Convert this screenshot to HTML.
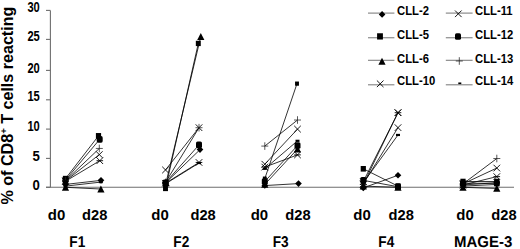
<!DOCTYPE html>
<html><head><meta charset="utf-8"><style>
html,body{margin:0;padding:0;background:#fff;}
svg{display:block;}
text{font-family:"Liberation Sans",sans-serif;font-weight:bold;fill:#000;}
.yl{font-size:13.9px;}
.xl{font-size:14px;}
.gl{font-size:15.6px;text-rendering:geometricPrecision;}
.lg{font-size:12.8px;}
.yt{font-size:16.1px;}
.sup{font-size:9.5px;}
</style></head><body>
<svg width="520" height="249" viewBox="0 0 520 249">
<path d="M50.4 10.40V187.30" stroke="#6e6e6e" stroke-width="1.1" fill="none"/>
<path d="M46 187.30H514" stroke="#6e6e6e" stroke-width="1.1" fill="none"/>
<path d="M46 187.30H50.4" stroke="#6e6e6e" stroke-width="1.1" fill="none"/>
<text transform="translate(39.8,189.55) scale(0.95,1)" text-anchor="end" class="yl">0</text>
<path d="M46 158.40H50.4" stroke="#6e6e6e" stroke-width="1.1" fill="none"/>
<text transform="translate(39.8,161.35) scale(0.95,1)" text-anchor="end" class="yl">5</text>
<path d="M46 129.10H50.4" stroke="#6e6e6e" stroke-width="1.1" fill="none"/>
<text transform="translate(39.8,130.85) scale(0.8,1)" text-anchor="end" class="yl">10</text>
<path d="M46 99.80H50.4" stroke="#6e6e6e" stroke-width="1.1" fill="none"/>
<text transform="translate(39.8,101.35) scale(0.8,1)" text-anchor="end" class="yl">15</text>
<path d="M46 70.40H50.4" stroke="#6e6e6e" stroke-width="1.1" fill="none"/>
<text transform="translate(39.8,72.55) scale(0.8,1)" text-anchor="end" class="yl">20</text>
<path d="M46 39.40H50.4" stroke="#6e6e6e" stroke-width="1.1" fill="none"/>
<text transform="translate(39.8,41.05) scale(0.8,1)" text-anchor="end" class="yl">25</text>
<path d="M46 10.40H50.4" stroke="#6e6e6e" stroke-width="1.1" fill="none"/>
<text transform="translate(39.8,12.00) scale(0.8,1)" text-anchor="end" class="yl">30</text>
<path d="M65.50 178.63L98.50 135.84" stroke="#000" stroke-width="0.8" fill="none"/>
<path d="M65.50 180.08L99.70 139.35" stroke="#000" stroke-width="0.8" fill="none"/>
<path d="M65.50 180.65L99.30 148.44" stroke="#000" stroke-width="0.8" fill="none"/>
<path d="M65.50 180.94L99.30 154.59" stroke="#000" stroke-width="0.8" fill="none"/>
<path d="M65.50 181.23L99.80 160.71" stroke="#000" stroke-width="0.8" fill="none"/>
<path d="M65.50 184.41L101.00 180.36" stroke="#000" stroke-width="0.8" fill="none"/>
<path d="M65.50 186.14L100.80 182.10" stroke="#000" stroke-width="0.8" fill="none"/>
<path d="M65.50 187.30L100.90 189.03" stroke="#000" stroke-width="0.8" fill="none"/>
<path d="M166.00 182.68L200.80 36.50" stroke="#000" stroke-width="0.8" fill="none"/>
<path d="M165.50 188.46L198.30 43.43" stroke="#000" stroke-width="0.8" fill="none"/>
<path d="M165.50 169.96L199.00 127.69" stroke="#000" stroke-width="0.8" fill="none"/>
<path d="M165.50 182.39L199.00 127.69" stroke="#000" stroke-width="0.8" fill="none"/>
<path d="M165.50 182.68L199.00 144.92" stroke="#000" stroke-width="0.8" fill="none"/>
<path d="M165.50 182.97L200.00 149.61" stroke="#000" stroke-width="0.8" fill="none"/>
<path d="M165.50 183.25L199.00 162.45" stroke="#000" stroke-width="0.8" fill="none"/>
<path d="M165.50 183.83L199.00 163.02" stroke="#000" stroke-width="0.8" fill="none"/>
<path d="M264.80 178.63L297.00 83.63" stroke="#000" stroke-width="0.8" fill="none"/>
<path d="M264.80 146.09L297.50 120.02" stroke="#000" stroke-width="0.8" fill="none"/>
<path d="M264.80 164.18L297.50 129.10" stroke="#000" stroke-width="0.8" fill="none"/>
<path d="M264.80 167.07L297.50 154.88" stroke="#000" stroke-width="0.8" fill="none"/>
<path d="M264.80 181.52L297.50 145.51" stroke="#000" stroke-width="0.8" fill="none"/>
<path d="M264.80 184.41L297.50 149.02" stroke="#000" stroke-width="0.8" fill="none"/>
<path d="M264.80 185.57L298.50 183.60" stroke="#000" stroke-width="0.8" fill="none"/>
<path d="M264.80 168.80L297.50 140.82" stroke="#000" stroke-width="0.8" fill="none"/>
<path d="M363.30 181.52L398.00 112.69" stroke="#000" stroke-width="0.8" fill="none"/>
<path d="M363.30 184.41L398.00 112.69" stroke="#000" stroke-width="0.8" fill="none"/>
<path d="M363.30 183.83L398.00 127.63" stroke="#000" stroke-width="0.8" fill="none"/>
<path d="M363.30 182.68L398.00 134.96" stroke="#000" stroke-width="0.8" fill="none"/>
<path d="M363.30 168.80L398.00 186.14" stroke="#000" stroke-width="0.8" fill="none"/>
<path d="M363.30 187.88L398.00 175.28" stroke="#000" stroke-width="0.8" fill="none"/>
<path d="M363.30 180.36L398.00 186.72" stroke="#000" stroke-width="0.8" fill="none"/>
<path d="M363.30 186.14L398.00 187.30" stroke="#000" stroke-width="0.8" fill="none"/>
<path d="M463.00 183.83L496.80 158.52" stroke="#000" stroke-width="0.8" fill="none"/>
<path d="M463.00 183.83L496.80 168.05" stroke="#000" stroke-width="0.8" fill="none"/>
<path d="M463.00 184.99L496.80 176.61" stroke="#000" stroke-width="0.8" fill="none"/>
<path d="M463.00 181.52L496.80 181.52" stroke="#000" stroke-width="0.8" fill="none"/>
<path d="M463.00 183.25L496.80 183.25" stroke="#000" stroke-width="0.8" fill="none"/>
<path d="M463.00 184.99L496.80 182.68" stroke="#000" stroke-width="0.8" fill="none"/>
<path d="M463.00 187.30L496.80 188.46" stroke="#000" stroke-width="0.8" fill="none"/>
<path d="M463.00 186.14L496.80 184.41" stroke="#000" stroke-width="0.8" fill="none"/>
<rect x="62.90" y="175.83" width="5.20" height="5.60" fill="#000"/>
<rect x="95.90" y="133.04" width="5.20" height="5.60" fill="#000"/>
<rect x="62.50" y="176.78" width="6.00" height="6.60" rx="1.60" fill="#000"/>
<rect x="96.70" y="136.05" width="6.00" height="6.60" rx="1.60" fill="#000"/>
<path d="M62.00 180.65L69.00 180.65M65.50 176.85L65.50 184.45" stroke="#222" stroke-width="0.75" fill="none"/>
<path d="M95.80 148.44L102.80 148.44M99.30 144.64L99.30 152.24" stroke="#222" stroke-width="0.75" fill="none"/>
<path d="M62.20 177.64L68.80 184.24M68.80 177.64L62.20 184.24" stroke="#000" stroke-width="0.9" fill="none"/>
<path d="M96.00 151.29L102.60 157.89M102.60 151.29L96.00 157.89" stroke="#000" stroke-width="0.9" fill="none"/>
<path d="M62.20 177.93L68.80 184.53M68.80 177.93L62.20 184.53M62.20 181.23L68.80 181.23" stroke="#000" stroke-width="0.9" fill="none"/>
<path d="M96.50 157.41L103.10 164.01M103.10 157.41L96.50 164.01M96.50 160.71L103.10 160.71" stroke="#000" stroke-width="0.9" fill="none"/>
<path d="M65.50 181.11L68.80 184.41L65.50 187.71L62.20 184.41Z" fill="#000"/>
<path d="M101.00 177.06L104.30 180.36L101.00 183.66L97.70 180.36Z" fill="#000"/>
<rect x="63.50" y="185.04" width="4.00" height="2.20" fill="#000"/>
<rect x="98.80" y="181.00" width="4.00" height="2.20" fill="#000"/>
<path d="M65.50 183.70L69.10 190.70L61.90 190.70Z" fill="#000"/>
<path d="M100.90 185.43L104.50 192.43L97.30 192.43Z" fill="#000"/>
<path d="M166.00 179.08L169.60 186.08L162.40 186.08Z" fill="#000"/>
<path d="M200.80 32.90L204.40 39.90L197.20 39.90Z" fill="#000"/>
<rect x="163.03" y="185.80" width="4.94" height="5.32" fill="#000"/>
<rect x="195.83" y="40.77" width="4.94" height="5.32" fill="#000"/>
<path d="M162.20 166.66L168.80 173.26M168.80 166.66L162.20 173.26" stroke="#000" stroke-width="0.9" fill="none"/>
<path d="M195.70 124.39L202.30 130.99M202.30 124.39L195.70 130.99" stroke="#000" stroke-width="0.9" fill="none"/>
<path d="M162.00 182.39L169.00 182.39M165.50 178.59L165.50 186.19" stroke="#222" stroke-width="0.75" fill="none"/>
<path d="M195.50 127.69L202.50 127.69M199.00 123.89L199.00 131.49" stroke="#222" stroke-width="0.75" fill="none"/>
<rect x="162.50" y="179.38" width="6.00" height="6.60" rx="1.60" fill="#000"/>
<rect x="196.00" y="141.62" width="6.00" height="6.60" rx="1.60" fill="#000"/>
<path d="M165.50 179.66L168.80 182.97L165.50 186.27L162.20 182.97Z" fill="#000"/>
<path d="M200.00 146.31L203.30 149.61L200.00 152.91L196.70 149.61Z" fill="#000"/>
<path d="M162.20 179.95L168.80 186.55M168.80 179.95L162.20 186.55M162.20 183.25L168.80 183.25" stroke="#000" stroke-width="0.9" fill="none"/>
<path d="M195.70 159.15L202.30 165.75M202.30 159.15L195.70 165.75M195.70 162.45L202.30 162.45" stroke="#000" stroke-width="0.9" fill="none"/>
<rect x="163.50" y="182.73" width="4.00" height="2.20" fill="#000"/>
<rect x="197.00" y="161.92" width="4.00" height="2.20" fill="#000"/>
<rect x="262.85" y="176.53" width="3.90" height="4.20" fill="#000"/>
<rect x="295.05" y="81.53" width="3.90" height="4.20" fill="#000"/>
<path d="M261.30 146.09L268.30 146.09M264.80 142.29L264.80 149.89" stroke="#222" stroke-width="0.75" fill="none"/>
<path d="M294.00 120.02L301.00 120.02M297.50 116.22L297.50 123.82" stroke="#222" stroke-width="0.75" fill="none"/>
<path d="M261.50 160.88L268.10 167.48M268.10 160.88L261.50 167.48" stroke="#000" stroke-width="0.9" fill="none"/>
<path d="M294.20 125.80L300.80 132.40M300.80 125.80L294.20 132.40" stroke="#000" stroke-width="0.9" fill="none"/>
<path d="M261.50 163.77L268.10 170.37M268.10 163.77L261.50 170.37M261.50 167.07L268.10 167.07" stroke="#000" stroke-width="0.9" fill="none"/>
<path d="M294.20 151.58L300.80 158.18M300.80 151.58L294.20 158.18M294.20 154.88L300.80 154.88" stroke="#000" stroke-width="0.9" fill="none"/>
<rect x="261.80" y="178.22" width="6.00" height="6.60" rx="1.60" fill="#000"/>
<rect x="294.50" y="142.21" width="6.00" height="6.60" rx="1.60" fill="#000"/>
<path d="M264.80 180.81L268.40 187.81L261.20 187.81Z" fill="#000"/>
<path d="M297.50 145.42L301.10 152.42L293.90 152.42Z" fill="#000"/>
<path d="M264.80 182.27L268.10 185.57L264.80 188.87L261.50 185.57Z" fill="#000"/>
<path d="M298.50 180.30L301.80 183.60L298.50 186.90L295.20 183.60Z" fill="#000"/>
<rect x="262.80" y="167.70" width="4.00" height="2.20" fill="#000"/>
<rect x="295.50" y="139.72" width="4.00" height="2.20" fill="#000"/>
<path d="M360.00 178.22L366.60 184.82M366.60 178.22L360.00 184.82" stroke="#000" stroke-width="0.9" fill="none"/>
<path d="M394.70 109.39L401.30 115.99M401.30 109.39L394.70 115.99" stroke="#000" stroke-width="0.9" fill="none"/>
<path d="M360.00 181.11L366.60 187.71M366.60 181.11L360.00 187.71M360.00 184.41L366.60 184.41" stroke="#000" stroke-width="0.9" fill="none"/>
<path d="M394.70 109.39L401.30 115.99M401.30 109.39L394.70 115.99M394.70 112.69L401.30 112.69" stroke="#000" stroke-width="0.9" fill="none"/>
<path d="M360.00 180.53L366.60 187.13M366.60 180.53L360.00 187.13" stroke="#000" stroke-width="0.9" fill="none"/>
<path d="M394.70 124.33L401.30 130.94M401.30 124.33L394.70 130.94" stroke="#000" stroke-width="0.9" fill="none"/>
<rect x="361.30" y="181.58" width="4.00" height="2.20" fill="#000"/>
<rect x="396.00" y="133.86" width="4.00" height="2.20" fill="#000"/>
<rect x="360.70" y="166.00" width="5.20" height="5.60" fill="#000"/>
<rect x="395.40" y="183.34" width="5.20" height="5.60" fill="#000"/>
<path d="M363.30 184.58L366.60 187.88L363.30 191.18L360.00 187.88Z" fill="#000"/>
<path d="M398.00 171.98L401.30 175.28L398.00 178.58L394.70 175.28Z" fill="#000"/>
<rect x="360.30" y="177.06" width="6.00" height="6.60" rx="1.60" fill="#000"/>
<rect x="395.00" y="183.42" width="6.00" height="6.60" rx="1.60" fill="#000"/>
<path d="M363.30 182.54L366.90 189.54L359.70 189.54Z" fill="#000"/>
<path d="M398.00 183.70L401.60 190.70L394.40 190.70Z" fill="#000"/>
<path d="M459.50 183.83L466.50 183.83M463.00 180.03L463.00 187.63" stroke="#222" stroke-width="0.75" fill="none"/>
<path d="M493.30 158.52L500.30 158.52M496.80 154.72L496.80 162.32" stroke="#222" stroke-width="0.75" fill="none"/>
<path d="M459.70 180.53L466.30 187.13M466.30 180.53L459.70 187.13" stroke="#000" stroke-width="0.9" fill="none"/>
<path d="M493.50 164.75L500.10 171.35M500.10 164.75L493.50 171.35" stroke="#000" stroke-width="0.9" fill="none"/>
<path d="M459.70 181.69L466.30 188.29M466.30 181.69L459.70 188.29M459.70 184.99L466.30 184.99" stroke="#000" stroke-width="0.9" fill="none"/>
<path d="M493.50 173.31L500.10 179.91M500.10 173.31L493.50 179.91M493.50 176.61L500.10 176.61" stroke="#000" stroke-width="0.9" fill="none"/>
<rect x="460.40" y="178.72" width="5.20" height="5.60" fill="#000"/>
<rect x="494.20" y="178.72" width="5.20" height="5.60" fill="#000"/>
<rect x="460.00" y="179.95" width="6.00" height="6.60" rx="1.60" fill="#000"/>
<rect x="493.80" y="179.95" width="6.00" height="6.60" rx="1.60" fill="#000"/>
<path d="M463.00 181.69L466.30 184.99L463.00 188.29L459.70 184.99Z" fill="#000"/>
<path d="M496.80 179.38L500.10 182.68L496.80 185.98L493.50 182.68Z" fill="#000"/>
<path d="M463.00 183.70L466.60 190.70L459.40 190.70Z" fill="#000"/>
<path d="M496.80 184.86L500.40 191.86L493.20 191.86Z" fill="#000"/>
<rect x="461.00" y="185.04" width="4.00" height="2.20" fill="#000"/>
<rect x="494.80" y="183.31" width="4.00" height="2.20" fill="#000"/>
<text transform="translate(56.6,220) scale(1.07,1)" text-anchor="middle" class="xl">d0</text>
<text transform="translate(94.7,220) scale(1.05,1)" text-anchor="middle" class="xl">d28</text>
<text transform="translate(77.3,246.6) scale(0.875,1)" text-anchor="middle" class="gl">F1</text>
<text transform="translate(160.0,220) scale(1.07,1)" text-anchor="middle" class="xl">d0</text>
<text transform="translate(203.1,220) scale(1.05,1)" text-anchor="middle" class="xl">d28</text>
<text transform="translate(181.25,246.6) scale(0.875,1)" text-anchor="middle" class="gl">F2</text>
<text transform="translate(259.4,220) scale(1.07,1)" text-anchor="middle" class="xl">d0</text>
<text transform="translate(298.0,220) scale(1.05,1)" text-anchor="middle" class="xl">d28</text>
<text transform="translate(280.6,246.6) scale(0.875,1)" text-anchor="middle" class="gl">F3</text>
<text transform="translate(362.1,220) scale(1.07,1)" text-anchor="middle" class="xl">d0</text>
<text transform="translate(401.25,220) scale(1.05,1)" text-anchor="middle" class="xl">d28</text>
<text transform="translate(386.25,246.6) scale(0.875,1)" text-anchor="middle" class="gl">F4</text>
<text transform="translate(465.0,220) scale(1.07,1)" text-anchor="middle" class="xl">d0</text>
<text transform="translate(503.9,220) scale(1.05,1)" text-anchor="middle" class="xl">d28</text>
<text transform="translate(483.1,246.6) scale(0.96,1)" text-anchor="middle" class="gl">MAGE-3</text>
<text transform="translate(12.8,204.5) rotate(-90)" class="yt">% of CD8<tspan class="sup" dy="-6.2">+</tspan><tspan dy="6.2"> T cells reacting</tspan></text>
<path d="M368 13.1H394.4" stroke="#808080" stroke-width="1.1" fill="none"/>
<path d="M382.10 11.10L385.40 14.40L382.10 17.70L378.80 14.40Z" fill="#000"/>
<text transform="translate(397.0,15.2) scale(0.88,1)" class="lg">CLL-2</text>
<path d="M368 37.75H394.4" stroke="#808080" stroke-width="1.1" fill="none"/>
<rect x="377.09" y="33.26" width="5.82" height="6.27" fill="#000"/>
<text transform="translate(397.0,38.7) scale(0.88,1)" class="lg">CLL-5</text>
<path d="M368 60.3H394.4" stroke="#808080" stroke-width="1.1" fill="none"/>
<path d="M382.00 57.80L385.60 64.80L378.40 64.80Z" fill="#000"/>
<text transform="translate(397.0,62.8) scale(0.88,1)" class="lg">CLL-6</text>
<path d="M368 84.8H394.4" stroke="#808080" stroke-width="1.1" fill="none"/>
<path d="M376.90 80.50L383.50 87.10M383.50 80.50L376.90 87.10" stroke="#000" stroke-width="0.9" fill="none"/>
<text transform="translate(397.0,85.1) scale(0.88,1)" class="lg">CLL-10</text>
<path d="M445.8 13.1H472.6" stroke="#808080" stroke-width="1.1" fill="none"/>
<path d="M455.00 10.50L461.60 17.10M461.60 10.50L455.00 17.10" stroke="#000" stroke-width="0.9" fill="none"/>
<text transform="translate(475.0,15.2) scale(0.88,1)" class="lg">CLL-11</text>
<path d="M445.8 37.75H472.6" stroke="#808080" stroke-width="1.1" fill="none"/>
<rect x="455.00" y="33.20" width="6.00" height="6.60" rx="1.60" fill="#000"/>
<text transform="translate(475.0,38.7) scale(0.88,1)" class="lg">CLL-12</text>
<path d="M445.8 60.3H472.6" stroke="#808080" stroke-width="1.1" fill="none"/>
<path d="M455.80 61.00L462.80 61.00M459.30 57.20L459.30 64.80" stroke="#222" stroke-width="0.75" fill="none"/>
<text transform="translate(475.0,62.8) scale(0.88,1)" class="lg">CLL-13</text>
<path d="M445.8 84.8H472.6" stroke="#808080" stroke-width="1.1" fill="none"/>
<rect x="458.30" y="82.47" width="3.00" height="1.65" fill="#000"/>
<text transform="translate(475.0,85.1) scale(0.88,1)" class="lg">CLL-14</text>
</svg>
</body></html>
